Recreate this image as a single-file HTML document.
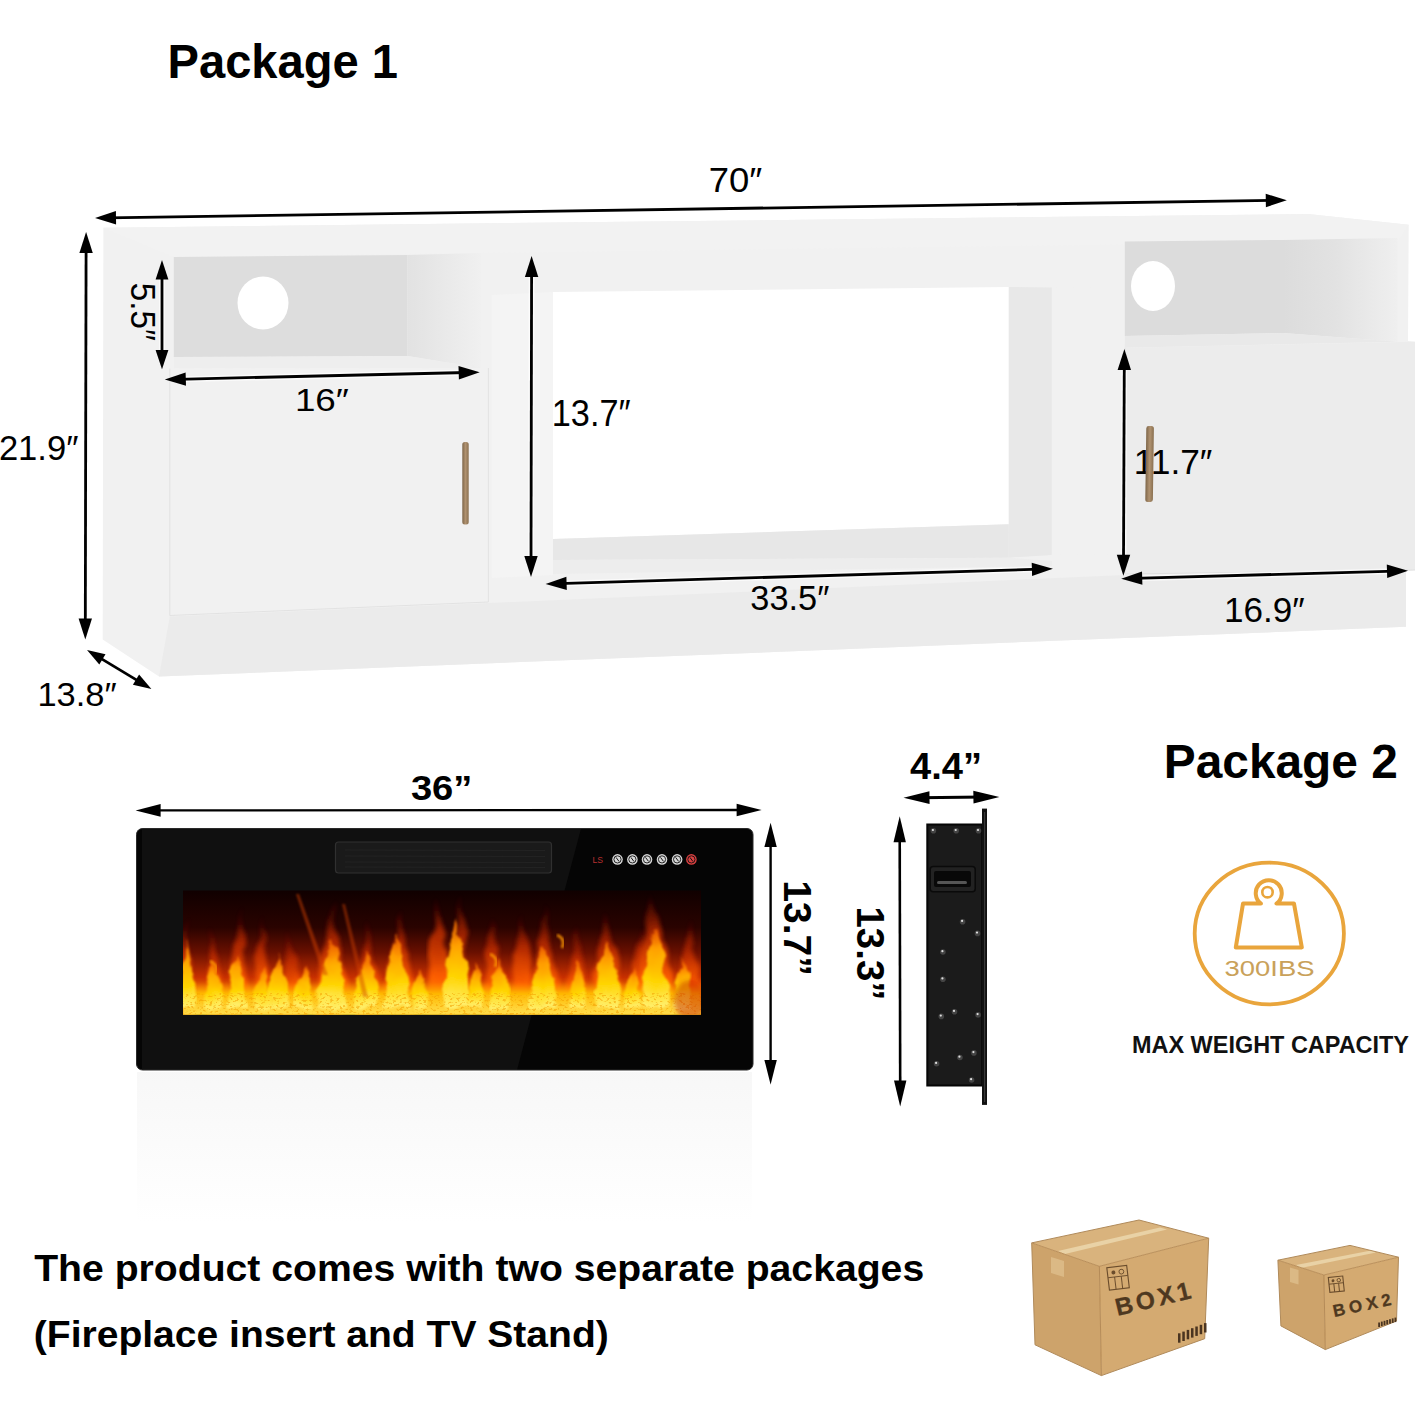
<!DOCTYPE html><html><head><meta charset="utf-8"><style>html,body{margin:0;padding:0;background:#fff;width:1417px;height:1417px;overflow:hidden}svg{display:block}text{font-family:"Liberation Sans",sans-serif}</style></head><body>
<svg width="1417" height="1417" viewBox="0 0 1417 1417">
<defs>
<linearGradient id="sideL" x1="0" x2="1" y1="0" y2="0"><stop offset="0" stop-color="#e2e2e2"/><stop offset="1" stop-color="#f0f0f0"/></linearGradient>
<linearGradient id="sideR" x1="0" x2="1" y1="0" y2="0"><stop offset="0" stop-color="#dcdcdc"/><stop offset="0.45" stop-color="#e2e2e2"/><stop offset="1" stop-color="#efefef"/></linearGradient>
<linearGradient id="refl" x1="0" x2="0" y1="0" y2="1"><stop offset="0" stop-color="#eeeeee"/><stop offset="1" stop-color="#ffffff"/></linearGradient>

</defs>
<polygon points="103.4,227.7 1308,214 1408.7,224.8 1408,341 1415,341.8 1415,570 1406,571 1406,626.8 159,676.5 102.7,639.4" fill="#f1f1f1"/>
<polygon points="103.4,227.7 1308,214 1408.7,224.8 1398,241 173.8,257" fill="#f2f2f2"/>
<polygon points="173.8,256.9 407.5,255 407.5,356 173.8,357" fill="#dddddd"/>
<polygon points="407.5,255 481,253 481,368 407.5,356" fill="url(#sideL)"/>
<polygon points="173.8,357 407.5,356 481,368 173.8,368.5" fill="#eeeeee"/>
<ellipse cx="263" cy="303" rx="25.5" ry="26.5" fill="#fff"/>
<polygon points="1124.8,241.5 1283,240 1283,333 1124.8,336" fill="#dcdcdc"/>
<polygon points="1283,240 1397.5,238 1397.5,341.8 1283,333" fill="url(#sideR)"/>
<polygon points="1124.8,336 1283,333 1397.5,341.8 1124.8,347.7" fill="#e9e9e9"/>
<ellipse cx="1153" cy="286" rx="22" ry="25" fill="#fff"/>
<polygon points="553,292 1008.8,286.9 1008.8,524.3 553,539" fill="#ffffff"/>
<polygon points="553,539 1008.8,524.3 1008.8,557.7 553,560" fill="#e7e7e7"/>
<polygon points="553,560 1008.8,557.7 1052,561 1052,566 553,574" fill="#ededed"/>
<polygon points="491.8,295 553,292 553,575 491.8,578" fill="#f4f4f4"/>
<polygon points="1008.8,286.9 1051.8,287.5 1051.8,555 1008.8,557.7" fill="#e8e8e8"/>
<polygon points="1051.8,287.5 1116,288 1116,554 1051.8,555" fill="#f1f1f1"/>
<polygon points="169.8,368.5 488.4,368 488.4,602 169.8,615.5" fill="#f1f1f1"/>
<polyline points="169.8,368.5 169.8,615.5 488.4,602 488.4,368" fill="none" stroke="#e2e2e2" stroke-width="1"/>
<polygon points="1125,347.7 1415,341.8 1415,570 1125,574" fill="#ececec"/>
<polyline points="1125,347.7 1125,574 1415,570" fill="none" stroke="#e0e0e0" stroke-width="1"/>
<defs><linearGradient id="hdl" x1="0" x2="1" y1="0" y2="0"><stop offset="0" stop-color="#7d6548"/><stop offset="0.5" stop-color="#b09270"/><stop offset="1" stop-color="#8a7050"/></linearGradient></defs>
<rect x="462.3" y="442" width="6.4" height="82.5" rx="2.5" fill="url(#hdl)"/>
<polygon points="169.8,616.5 488.4,603 1125,575 1406,572 1406,626.8 159,676.5" fill="#ebebeb"/>
<line x1="107.6" y1="217.8" x2="1274.2" y2="200.4" stroke="#fff" stroke-opacity="0.7" stroke-width="5.8"/><line x1="107.6" y1="217.8" x2="1274.2" y2="200.4" stroke="#000" stroke-width="2.8"/><polygon points="95.0,218.0 115.9,211.0 116.1,224.4" fill="#000"/><polygon points="1286.8,200.2 1265.9,207.2 1265.7,193.8" fill="#000"/>
<line x1="86.1" y1="244.6" x2="85.3" y2="626.8" stroke="#fff" stroke-opacity="0.7" stroke-width="5.8"/><line x1="86.1" y1="244.6" x2="85.3" y2="626.8" stroke="#000" stroke-width="2.8"/><polygon points="86.1,232.0 92.8,253.0 79.4,253.0" fill="#000"/><polygon points="85.3,639.4 78.6,618.4 92.0,618.4" fill="#000"/>
<line x1="162.0" y1="271.7" x2="162.0" y2="357.7" stroke="#fff" stroke-opacity="0.7" stroke-width="5.8"/><line x1="162.0" y1="271.7" x2="162.0" y2="357.7" stroke="#000" stroke-width="2.8"/><polygon points="162.0,260.1 168.4,279.4 155.6,279.4" fill="#000"/><polygon points="162.0,369.3 155.6,350.0 168.4,350.0" fill="#000"/>
<line x1="177.4" y1="379.3" x2="467.1" y2="372.5" stroke="#fff" stroke-opacity="0.7" stroke-width="5.8"/><line x1="177.4" y1="379.3" x2="467.1" y2="372.5" stroke="#000" stroke-width="2.8"/><polygon points="164.8,379.6 185.6,372.4 186.0,385.8" fill="#000"/><polygon points="479.7,372.2 458.9,379.4 458.5,366.0" fill="#000"/>
<line x1="531.6" y1="268.6" x2="531.0" y2="564.4" stroke="#fff" stroke-opacity="0.7" stroke-width="5.8"/><line x1="531.6" y1="268.6" x2="531.0" y2="564.4" stroke="#000" stroke-width="2.8"/><polygon points="531.6,256.0 538.3,277.0 524.9,277.0" fill="#000"/><polygon points="531.0,577.0 524.3,556.0 537.7,556.0" fill="#000"/>
<line x1="558.2" y1="583.6" x2="1040.3" y2="569.2" stroke="#fff" stroke-opacity="0.7" stroke-width="5.8"/><line x1="558.2" y1="583.6" x2="1040.3" y2="569.2" stroke="#000" stroke-width="2.8"/><polygon points="545.6,584.0 566.4,576.7 566.8,590.1" fill="#000"/><polygon points="1052.9,568.8 1032.1,576.1 1031.7,562.7" fill="#000"/>
<line x1="1124.3" y1="361.6" x2="1123.5" y2="563.2" stroke="#fff" stroke-opacity="0.7" stroke-width="5.8"/><line x1="1124.3" y1="361.6" x2="1123.5" y2="563.2" stroke="#000" stroke-width="2.8"/><polygon points="1124.4,349.0 1131.0,370.0 1117.6,370.0" fill="#000"/><polygon points="1123.4,575.8 1116.8,554.8 1130.2,554.8" fill="#000"/>
<line x1="1133.8" y1="578.3" x2="1395.4" y2="571.1" stroke="#fff" stroke-opacity="0.7" stroke-width="5.8"/><line x1="1133.8" y1="578.3" x2="1395.4" y2="571.1" stroke="#000" stroke-width="2.8"/><polygon points="1121.2,578.7 1142.0,571.4 1142.4,584.8" fill="#000"/><polygon points="1408.0,570.7 1387.2,578.0 1386.8,564.6" fill="#000"/>
<line x1="96.2" y1="655.6" x2="142.2" y2="683.4" stroke="#fff" stroke-opacity="0.7" stroke-width="5.8"/><line x1="96.2" y1="655.6" x2="142.2" y2="683.4" stroke="#000" stroke-width="2.8"/><polygon points="87.0,650.0 105.5,654.2 99.3,664.5" fill="#000"/><polygon points="151.4,689.0 132.9,684.8 139.1,674.5" fill="#000"/>
<text x="167.5" y="77.6" font-size="48" font-weight="bold" fill="#000" text-anchor="start" textLength="230.5" lengthAdjust="spacingAndGlyphs" >Package 1</text>
<text x="708.8" y="192" font-size="35.5" font-weight="normal" fill="#000" text-anchor="start" textLength="53.5" lengthAdjust="spacingAndGlyphs" >70″</text>
<text x="294.9" y="410.5" font-size="31" font-weight="normal" fill="#000" text-anchor="start" textLength="54" lengthAdjust="spacingAndGlyphs" >16″</text>
<text x="-1.1" y="460.4" font-size="34.5" font-weight="normal" fill="#000" text-anchor="start" textLength="79.5" lengthAdjust="spacingAndGlyphs" >21.9″</text>
<text x="551.8" y="425.7" font-size="36.5" font-weight="normal" fill="#000" text-anchor="start" textLength="78.8" lengthAdjust="spacingAndGlyphs" >13.7″</text>
<text x="1133.7" y="473.5" font-size="35.5" font-weight="normal" fill="#000" text-anchor="start" textLength="78.7" lengthAdjust="spacingAndGlyphs" >11.7″</text>
<text x="750.3" y="610" font-size="34.5" font-weight="normal" fill="#000" text-anchor="start" textLength="79" lengthAdjust="spacingAndGlyphs" >33.5″</text>
<text x="1224" y="621.5" font-size="35.5" font-weight="normal" fill="#000" text-anchor="start" textLength="80.6" lengthAdjust="spacingAndGlyphs" >16.9″</text>
<text x="37.4" y="705.7" font-size="33" font-weight="normal" fill="#000" text-anchor="start" textLength="79.2" lengthAdjust="spacingAndGlyphs" >13.8″</text>
<g transform="translate(130.8,282.8) rotate(90)"><text x="0" y="0" font-size="34.5" font-weight="normal" fill="#000" text-anchor="start" textLength="58" lengthAdjust="spacingAndGlyphs" >5.5″</text></g>
<rect x="1145.8" y="426" width="7.6" height="76" rx="2.5" fill="url(#hdl)" transform="rotate(0.8 1149.6 464)"/>
<defs>
<linearGradient id="fwin" x1="0" x2="0" y1="0" y2="1">
 <stop offset="0" stop-color="#100000"/><stop offset="0.3" stop-color="#2a0300"/>
 <stop offset="0.5" stop-color="#6a1000"/><stop offset="0.7" stop-color="#c83000"/>
 <stop offset="0.85" stop-color="#ff8a00"/><stop offset="1" stop-color="#ffd000"/></linearGradient>
<linearGradient id="flame" x1="0" x2="0" y1="0" y2="1">
 <stop offset="0" stop-color="#ff6a00" stop-opacity="0.7"/><stop offset="0.3" stop-color="#ffa000"/>
 <stop offset="0.65" stop-color="#ffd400"/><stop offset="1" stop-color="#fff070"/></linearGradient>
<linearGradient id="flame2" x1="0" x2="0" y1="0" y2="1">
 <stop offset="0" stop-color="#a01800" stop-opacity="0"/><stop offset="0.35" stop-color="#c83000" stop-opacity="0.8"/><stop offset="0.7" stop-color="#ff6000"/>
 <stop offset="1" stop-color="#ffa000"/></linearGradient>
<filter id="blur2" x="-20%" y="-20%" width="140%" height="140%"><feGaussianBlur stdDeviation="2.2"/></filter>
<filter id="blur1"><feGaussianBlur stdDeviation="0.8"/></filter><filter id="blur15" x="-30%" y="-30%" width="160%" height="160%"><feGaussianBlur stdDeviation="1.8"/></filter>
<clipPath id="winclip"><rect x="183" y="890.3" width="518" height="124.5"/></clipPath>
<filter id="ember" x="0" y="0" width="100%" height="100%">
 <feTurbulence type="fractalNoise" baseFrequency="0.3 0.45" numOctaves="2" seed="7" result="n"/>
 <feColorMatrix in="n" type="matrix" values="0 0 0 0 0.9  0 0 0 0 0.35  0 0 0 0 0  8 0 0 0 -4.4" result="m"/>
 <feComposite in="m" in2="SourceGraphic" operator="in"/>
</filter>
<linearGradient id="emberg" x1="0" x2="0" y1="0" y2="1"><stop offset="0" stop-color="#ff9000" stop-opacity="0"/><stop offset="0.35" stop-color="#ffb800"/><stop offset="1" stop-color="#ffe050"/></linearGradient>
</defs>
<rect x="137" y="1072" width="615" height="150" fill="url(#refl)" opacity="0.45"/>
<rect x="136.5" y="828.5" width="616.5" height="241.5" rx="6" fill="#050505"/>
<polygon points="142,828.5 581,828.5 517,1070 142,1070" fill="#101010"/>
<rect x="136.5" y="828.5" width="616.5" height="241.5" rx="6" fill="none" stroke="#2a2a2a" stroke-width="1"/>
<rect x="335.5" y="842" width="216" height="31" rx="3" fill="#1a1a1a" stroke="#303030" stroke-width="1.2"/>
<line x1="345" y1="850" x2="545" y2="850.5" stroke="#232323" stroke-width="1"/>
<line x1="345" y1="856" x2="545" y2="856.5" stroke="#232323" stroke-width="1"/>
<line x1="345" y1="862" x2="545" y2="862.5" stroke="#232323" stroke-width="1"/>
<line x1="345" y1="867" x2="545" y2="867.5" stroke="#232323" stroke-width="1"/>
<text x="592.5" y="862.5" font-size="9" fill="#b83030" textLength="10.5" lengthAdjust="spacingAndGlyphs">LS</text>
<circle cx="617.5" cy="859.4" r="5.3" fill="#d8d8d8"/>
<circle cx="617.5" cy="859.4" r="3.6" fill="none" stroke="#111" stroke-width="0.9"/>
<line x1="616.0" y1="857.4" x2="619.0" y2="861.4" stroke="#111" stroke-width="1"/>
<circle cx="632.4" cy="859.4" r="5.3" fill="#d8d8d8"/>
<circle cx="632.4" cy="859.4" r="3.6" fill="none" stroke="#111" stroke-width="0.9"/>
<line x1="630.9" y1="857.4" x2="633.9" y2="861.4" stroke="#111" stroke-width="1"/>
<circle cx="647" cy="859.4" r="5.3" fill="#d8d8d8"/>
<circle cx="647" cy="859.4" r="3.6" fill="none" stroke="#111" stroke-width="0.9"/>
<line x1="645.5" y1="857.4" x2="648.5" y2="861.4" stroke="#111" stroke-width="1"/>
<circle cx="662" cy="859.4" r="5.3" fill="#d8d8d8"/>
<circle cx="662" cy="859.4" r="3.6" fill="none" stroke="#111" stroke-width="0.9"/>
<line x1="660.5" y1="857.4" x2="663.5" y2="861.4" stroke="#111" stroke-width="1"/>
<circle cx="677.1" cy="859.4" r="5.3" fill="#d8d8d8"/>
<circle cx="677.1" cy="859.4" r="3.6" fill="none" stroke="#111" stroke-width="0.9"/>
<line x1="675.6" y1="857.4" x2="678.6" y2="861.4" stroke="#111" stroke-width="1"/>
<circle cx="691.4" cy="859.4" r="5.3" fill="#d94040"/>
<circle cx="691.4" cy="859.4" r="3.6" fill="none" stroke="#111" stroke-width="0.9"/>
<line x1="689.9" y1="857.4" x2="692.9" y2="861.4" stroke="#111" stroke-width="1"/>
<defs><filter id="fire" x="-10%" y="-30%" width="120%" height="160%"><feTurbulence type="fractalNoise" baseFrequency="0.06 0.05" numOctaves="3" seed="11" result="t"/><feDisplacementMap in="SourceGraphic" in2="t" scale="11" xChannelSelector="R" yChannelSelector="G" result="d"/><feGaussianBlur in="d" stdDeviation="1.1"/></filter><filter id="fire2" x="-10%" y="-30%" width="120%" height="160%"><feTurbulence type="fractalNoise" baseFrequency="0.05 0.035" numOctaves="2" seed="3" result="t"/><feDisplacementMap in="SourceGraphic" in2="t" scale="13" xChannelSelector="R" yChannelSelector="G" result="d"/><feGaussianBlur in="d" stdDeviation="2.2"/></filter></defs>
<g clip-path="url(#winclip)">
<rect x="183" y="890.3" width="518" height="124.5" fill="url(#fwin)"/>
<path d="M177,1015 C177,975 183.3,950 186,915 C188.7,950 195,975 195,1015 Z" fill="url(#flame2)" filter="url(#fire2)" opacity="0.95"/>
<path d="M206,1015 C206,975 210.3,960 213,925 C215.7,960 224,975 224,1015 Z" fill="url(#flame2)" filter="url(#fire2)" opacity="0.95"/>
<path d="M228,1015 C228,975 238.0,940 241,905 C244.0,940 248,975 248,1015 Z" fill="url(#flame2)" filter="url(#fire2)" opacity="0.95"/>
<path d="M253,1015 C253,975 259.3,950 262,915 C264.7,950 271,975 271,1015 Z" fill="url(#flame2)" filter="url(#fire2)" opacity="0.95"/>
<path d="M280,1015 C280,975 285.4,965 289,930 C292.6,965 304,975 304,1015 Z" fill="url(#flame2)" filter="url(#fire2)" opacity="0.95"/>
<path d="M315,1015 C315,975 328.2,935 333,900 C337.8,935 347,975 347,1015 Z" fill="url(#flame2)" filter="url(#fire2)" opacity="0.95"/>
<path d="M358,1015 C358,975 364.4,955 368,920 C371.6,955 382,975 382,1015 Z" fill="url(#flame2)" filter="url(#fire2)" opacity="0.95"/>
<path d="M384,1015 C384,975 396.8,940 401,905 C405.2,940 412,975 412,1015 Z" fill="url(#flame2)" filter="url(#fire2)" opacity="0.95"/>
<path d="M429,1015 C429,975 432.7,925 436,890 C439.3,925 451,975 451,1015 Z" fill="url(#flame2)" filter="url(#fire2)" opacity="0.95"/>
<path d="M444,1015 C444,975 455.8,928 460,893 C464.2,928 472,975 472,1015 Z" fill="url(#flame2)" filter="url(#fire2)" opacity="0.95"/>
<path d="M482,1015 C482,975 489.1,950 493,915 C496.9,950 508,975 508,1015 Z" fill="url(#flame2)" filter="url(#fire2)" opacity="0.95"/>
<path d="M509,1015 C509,975 519.7,945 523,910 C526.3,945 531,975 531,1015 Z" fill="url(#flame2)" filter="url(#fire2)" opacity="0.95"/>
<path d="M530,1015 C530,975 539.2,940 544,905 C548.8,940 562,975 562,1015 Z" fill="url(#flame2)" filter="url(#fire2)" opacity="0.95"/>
<path d="M562,1015 C562,975 573.1,960 577,925 C580.9,960 588,975 588,1015 Z" fill="url(#flame2)" filter="url(#fire2)" opacity="0.95"/>
<path d="M592,1015 C592,975 600.2,945 605,910 C609.8,945 624,975 624,1015 Z" fill="url(#flame2)" filter="url(#fire2)" opacity="0.95"/>
<path d="M628,1015 C628,975 638.4,955 642,920 C645.6,955 652,975 652,1015 Z" fill="url(#flame2)" filter="url(#fire2)" opacity="0.95"/>
<path d="M638,1015 C638,975 646.6,925 652,890 C657.4,925 674,975 674,1015 Z" fill="url(#flame2)" filter="url(#fire2)" opacity="0.95"/>
<path d="M678,1015 C678,975 688.4,950 692,915 C695.6,950 702,975 702,1015 Z" fill="url(#flame2)" filter="url(#fire2)" opacity="0.95"/>
<rect x="183" y="982" width="518" height="33" fill="url(#emberg)" filter="url(#blur1)"/>
<path d="M181,1008 C181,973.0 185.9,952.0 188,940 C190.1,952.0 195,973.0 195,1008 Z" fill="url(#flame)" filter="url(#fire)"/>
<path d="M205,1008 C205,982.0 210.3,968.0 213,960 C215.7,968.0 223,982.0 223,1008 Z" fill="url(#flame)" filter="url(#fire)"/>
<path d="M228,1008 C228,978.4 235.3,961.6 238,952 C240.7,961.6 246,978.4 246,1008 Z" fill="url(#flame)" filter="url(#fire)"/>
<path d="M254,1008 C254,984.25 259.6,972.0 262,965 C264.4,972.0 270,984.25 270,1008 Z" fill="url(#flame)" filter="url(#fire)"/>
<path d="M268,1008 C268,979.75 274.7,964.0 278,955 C281.3,964.0 290,979.75 290,1008 Z" fill="url(#flame)" filter="url(#fire)"/>
<path d="M295,1008 C295,984.25 302.3,972.0 305,965 C307.7,972.0 313,984.25 313,1008 Z" fill="url(#flame)" filter="url(#fire)"/>
<path d="M317,1008 C317,973.0 326.8,952.0 331,940 C335.2,952.0 345,973.0 345,1008 Z" fill="url(#flame)" filter="url(#fire)"/>
<path d="M356,1008 C356,978.4 364.7,961.6 368,952 C371.3,961.6 378,978.4 378,1008 Z" fill="url(#flame)" filter="url(#fire)"/>
<path d="M385,1008 C385,970.75 392.4,948.0 396,935 C399.6,948.0 409,970.75 409,1008 Z" fill="url(#flame)" filter="url(#fire)"/>
<path d="M412,1008 C412,985.6 417.6,974.4 420,968 C422.4,974.4 428,985.6 428,1008 Z" fill="url(#flame)" filter="url(#fire)"/>
<path d="M443,1008 C443,963.1 453.1,934.4 457,918 C460.9,934.4 469,963.1 469,1008 Z" fill="url(#flame)" filter="url(#fire)"/>
<path d="M468,1008 C468,982.9 473.6,969.6 476,962 C478.4,969.6 484,982.9 484,1008 Z" fill="url(#flame)" filter="url(#fire)"/>
<path d="M491,1008 C491,981.1 496.3,966.4 499,958 C501.7,966.4 509,981.1 509,1008 Z" fill="url(#flame)" filter="url(#fire)"/>
<path d="M530,1008 C530,975.25 540.1,956.0 544,945 C547.9,956.0 556,975.25 556,1008 Z" fill="url(#flame)" filter="url(#fire)"/>
<path d="M569,1008 C569,982.9 575.3,969.6 578,962 C580.7,969.6 587,982.9 587,1008 Z" fill="url(#flame)" filter="url(#fire)"/>
<path d="M596,1008 C596,972.1 603.4,950.4 607,938 C610.6,950.4 620,972.1 620,1008 Z" fill="url(#flame)" filter="url(#fire)"/>
<path d="M624,1008 C624,984.7 630.6,972.8 633,966 C635.4,972.8 640,984.7 640,1008 Z" fill="url(#flame)" filter="url(#fire)"/>
<path d="M641,1008 C641,966.25 650.8,940.0 655,925 C659.2,940.0 669,966.25 669,1008 Z" fill="url(#flame)" filter="url(#fire)"/>
<path d="M674,1008 C674,981.1 679.6,966.4 682,958 C684.4,966.4 690,981.1 690,1008 Z" fill="url(#flame)" filter="url(#fire)"/>
<path d="M210,961 Q219,965 215,974" fill="none" stroke="#ff9a00" stroke-width="3" opacity="0.8" filter="url(#blur1)"/>
<path d="M490,954 Q499,958 495,967" fill="none" stroke="#ff9a00" stroke-width="3" opacity="0.8" filter="url(#blur1)"/>
<path d="M557,935 Q566,939 562,948" fill="none" stroke="#ff9a00" stroke-width="3" opacity="0.8" filter="url(#blur1)"/>
<path d="M296,894 L299,894 L328,975 L323,975 Z" fill="#d04000" opacity="0.5" filter="url(#blur1)"/>
<path d="M342,904 L345,904 L368,997 L363,997 Z" fill="#d04000" opacity="0.45" filter="url(#blur1)"/>
<rect x="183" y="993" width="518" height="22" fill="#b04000" filter="url(#ember)" opacity="0.55"/>
<ellipse cx="690" cy="1000" rx="16" ry="20" fill="#c01800" opacity="0.45" filter="url(#blur2)"/>
</g>
<line x1="150.6" y1="810.4" x2="746.6" y2="810.0" stroke="#000" stroke-width="2.4"/><polygon points="135.6,810.4 160.6,804.1 160.6,816.7" fill="#000"/><polygon points="761.6,810.0 736.6,816.3 736.6,803.7" fill="#000"/>
<line x1="770.6" y1="837.3" x2="770.6" y2="1069.8" stroke="#000" stroke-width="2.4"/><polygon points="770.6,822.7 776.8,847.1 764.4,847.1" fill="#000"/><polygon points="770.6,1084.4 764.4,1060.0 776.8,1060.0" fill="#000"/>
<text x="410.9" y="799.6" font-size="35.5" font-weight="bold" fill="#000" text-anchor="start" textLength="61.5" lengthAdjust="spacingAndGlyphs" >36”</text>
<g transform="translate(783.5,880.3) rotate(90)"><text x="0" y="0" font-size="39" font-weight="bold" fill="#000" text-anchor="start" textLength="95.5" lengthAdjust="spacingAndGlyphs" >13.7”</text></g>
<rect x="927.3" y="824.5" width="55" height="261" fill="#1b1b1b" stroke="#050505" stroke-width="2"/>
<rect x="982" y="808.6" width="5" height="296.3" fill="#111"/>
<rect x="984" y="812" width="1.2" height="290" fill="#555" opacity="0.6"/>
<rect x="930.2" y="866.4" width="45" height="25.4" rx="3" fill="#222" stroke="#0a0a0a" stroke-width="1.5"/>
<rect x="934" y="871" width="37" height="16" rx="2" fill="#080808"/>
<rect x="937" y="881" width="30" height="3" rx="1.5" fill="#555"/>
<circle cx="933.4" cy="830.8" r="2.8" fill="#444"/><circle cx="932.9" cy="830.0" r="1.1" fill="#ddd"/>
<circle cx="956.2" cy="830.8" r="2.8" fill="#444"/><circle cx="955.7" cy="830.0" r="1.1" fill="#ddd"/>
<circle cx="978.5" cy="830.8" r="2.8" fill="#444"/><circle cx="978.0" cy="830.0" r="1.1" fill="#ddd"/>
<circle cx="962.6" cy="921.7" r="2.8" fill="#444"/><circle cx="962.1" cy="920.9000000000001" r="1.1" fill="#ddd"/>
<circle cx="977.5" cy="933.4" r="2.8" fill="#444"/><circle cx="977.0" cy="932.6" r="1.1" fill="#ddd"/>
<circle cx="942.9" cy="952" r="2.8" fill="#444"/><circle cx="942.4" cy="951.2" r="1.1" fill="#ddd"/>
<circle cx="942.9" cy="979.2" r="2.8" fill="#444"/><circle cx="942.4" cy="978.4000000000001" r="1.1" fill="#ddd"/>
<circle cx="954.5" cy="1011.7" r="2.8" fill="#444"/><circle cx="954.0" cy="1010.9000000000001" r="1.1" fill="#ddd"/>
<circle cx="941.3" cy="1016.4" r="2.8" fill="#444"/><circle cx="940.8" cy="1015.6" r="1.1" fill="#ddd"/>
<circle cx="978.1" cy="1014.9" r="2.8" fill="#444"/><circle cx="977.6" cy="1014.1" r="1.1" fill="#ddd"/>
<circle cx="973.9" cy="1052.9" r="2.8" fill="#444"/><circle cx="973.4" cy="1052.1000000000001" r="1.1" fill="#ddd"/>
<circle cx="959.9" cy="1057.5" r="2.8" fill="#444"/><circle cx="959.4" cy="1056.7" r="1.1" fill="#ddd"/>
<circle cx="936.6" cy="1063.7" r="2.8" fill="#444"/><circle cx="936.1" cy="1062.9" r="1.1" fill="#ddd"/>
<circle cx="971.6" cy="1080" r="2.8" fill="#444"/><circle cx="971.1" cy="1079.2" r="1.1" fill="#ddd"/>
<line x1="919.1" y1="797.7" x2="983.8" y2="797.1" stroke="#000" stroke-width="3"/><polygon points="903.5,797.8 929.4,791.2 929.6,804.0" fill="#000"/><polygon points="999.4,797.0 973.5,803.6 973.3,790.8" fill="#000"/>
<line x1="899.7" y1="831.8" x2="900.2" y2="1090.8" stroke="#000" stroke-width="2.6"/><polygon points="899.7,816.2 905.9,842.2 893.5,842.2" fill="#000"/><polygon points="900.2,1106.4 894.0,1080.4 906.4,1080.4" fill="#000"/>
<text x="910.1" y="778.7" font-size="36" font-weight="bold" fill="#000" text-anchor="start" textLength="72" lengthAdjust="spacingAndGlyphs" >4.4”</text>
<g transform="translate(857,906.5) rotate(90)"><text x="0" y="0" font-size="38" font-weight="bold" fill="#000" text-anchor="start" textLength="94" lengthAdjust="spacingAndGlyphs" >13.3”</text></g>
<text x="1163.8" y="777.5" font-size="48" font-weight="bold" fill="#000" text-anchor="start" textLength="234" lengthAdjust="spacingAndGlyphs" >Package 2</text>
<ellipse cx="1269.3" cy="933.5" rx="74.6" ry="70.8" fill="none" stroke="#e9a53c" stroke-width="3.8"/>
<path d="M1243,903.6 L1261,903.6 A13,13 0 1 1 1276.5,903.6 L1294,903.6 L1301.8,947.4 L1235.8,947.4 Z" fill="none" stroke="#e9a53c" stroke-width="4" stroke-linejoin="round"/>
<circle cx="1267.5" cy="892.2" r="5.2" fill="none" stroke="#e9a53c" stroke-width="2.6"/>
<text x="1224.5" y="976.4" font-size="22" font-weight="normal" fill="#c9a15a" text-anchor="start" textLength="90" lengthAdjust="spacingAndGlyphs" >300IBS</text>
<text x="1132" y="1053" font-size="23.5" font-weight="bold" fill="#111" text-anchor="start" textLength="277" lengthAdjust="spacingAndGlyphs" >MAX WEIGHT CAPACITY</text>
<text x="34.2" y="1280.8" font-size="37.8" font-weight="bold" fill="#000" text-anchor="start" textLength="890" lengthAdjust="spacingAndGlyphs" >The product comes with two separate packages</text>
<text x="33.8" y="1346.9" font-size="37.8" font-weight="bold" fill="#000" text-anchor="start" textLength="575" lengthAdjust="spacingAndGlyphs" >(Fireplace insert and TV Stand)</text>
<polygon points="1031.7,1242.9 1099.4,1266.3 1101.4,1375.6 1035.0,1344.8" fill="#cda36b"/><polygon points="1099.4,1266.3 1208.7,1238.2 1204.7,1338.7 1101.4,1375.6" fill="#d4aa71"/><polygon points="1031.7,1242.9 1139.0,1220.0 1208.7,1238.2 1099.4,1266.3" fill="#d9b37d"/><polygon points="1051.0,1257.0 1064.0,1261.0 1064.0,1277.0 1051.0,1273.0" fill="#dbb985"/><polygon points="1058.0,1251.0 1160.0,1227.5 1167.0,1229.5 1065.0,1254.0" fill="#e9d2a6"/><polyline points="1031.7,1242.9 1099.4,1266.3 1208.7,1238.2" fill="none" stroke="#b58a55" stroke-width="0.9"/><line x1="1099.4" y1="1266.3" x2="1101.4" y2="1375.6" stroke="#b08550" stroke-width="0.9"/><polygon points="1031.7,1242.9 1139.0,1220.0 1208.7,1238.2 1204.7,1338.7 1101.4,1375.6 1035.0,1344.8" fill="none" stroke="#b08a5a" stroke-width="1"/><g transform="translate(1117.5,1316) rotate(-13.5)"><text x="0" y="0" font-size="24.5" font-weight="bold" fill="#4e3820" stroke="#4e3820" stroke-width="0.3" textLength="77" lengthAdjust="spacing">BOX1</text></g><g transform="rotate(-6.75 1106.8 1267.7)"><rect x="1106.8" y="1267.7" width="20" height="22.5" fill="none" stroke="#6a4c2c" stroke-width="1.1"/><line x1="1106.8" y1="1277.825" x2="1126.8" y2="1277.825" stroke="#6a4c2c" stroke-width="0.9"/><line x1="1113.4666666666667" y1="1277.825" x2="1113.4666666666667" y2="1290.2" stroke="#6a4c2c" stroke-width="1"/><line x1="1120.1333333333332" y1="1277.825" x2="1120.1333333333332" y2="1290.2" stroke="#6a4c2c" stroke-width="1"/><circle cx="1112.8" cy="1273.325" r="2.0" fill="#6a4c2c"/><circle cx="1120.8" cy="1273.325" r="2.4" fill="none" stroke="#6a4c2c" stroke-width="0.9"/></g><rect x="1178.0" y="1333.3" width="2.5" height="9.4" fill="#4a3420"/><rect x="1182.3" y="1331.6" width="2.5" height="9.4" fill="#4a3420"/><rect x="1186.7" y="1329.9" width="2.5" height="9.4" fill="#4a3420"/><rect x="1191.0" y="1328.2" width="2.5" height="9.4" fill="#4a3420"/><rect x="1195.3" y="1326.5" width="2.5" height="9.4" fill="#4a3420"/><rect x="1199.7" y="1324.8" width="2.5" height="9.4" fill="#4a3420"/><rect x="1204.0" y="1323.1" width="2.5" height="9.4" fill="#4a3420"/>
<polygon points="1277.9,1260.2 1323.9,1275.0 1325.3,1349.6 1280.9,1325.9" fill="#cda36b"/><polygon points="1323.9,1275.0 1398.5,1257.2 1396.5,1321.0 1325.3,1349.6" fill="#d4aa71"/><polygon points="1277.9,1260.2 1350.0,1245.4 1398.5,1257.2 1323.9,1275.0" fill="#d9b37d"/><polygon points="1290.0,1267.5 1298.5,1270.0 1298.5,1284.4 1290.0,1282.0" fill="#dbb985"/><polygon points="1296.0,1265.0 1371.0,1250.5 1376.0,1252.5 1301.0,1268.0" fill="#e9d2a6"/><polyline points="1277.9,1260.2 1323.9,1275.0 1398.5,1257.2" fill="none" stroke="#b58a55" stroke-width="0.9"/><line x1="1323.9" y1="1275" x2="1325.3" y2="1349.6" stroke="#b08550" stroke-width="0.9"/><polygon points="1277.9,1260.2 1350.0,1245.4 1398.5,1257.2 1396.5,1321.0 1325.3,1349.6 1280.9,1325.9" fill="none" stroke="#b08a5a" stroke-width="1"/><g transform="translate(1334.2,1317) rotate(-12)"><text x="0" y="0" font-size="17" font-weight="bold" fill="#4e3820" stroke="#4e3820" stroke-width="0.3" textLength="59" lengthAdjust="spacing">BOX2</text></g><g transform="rotate(-6.0 1328.3 1277.5)"><rect x="1328.3" y="1277.5" width="14.5" height="15" fill="none" stroke="#6a4c2c" stroke-width="1.1"/><line x1="1328.3" y1="1284.25" x2="1342.8" y2="1284.25" stroke="#6a4c2c" stroke-width="0.9"/><line x1="1333.1333333333332" y1="1284.25" x2="1333.1333333333332" y2="1292.5" stroke="#6a4c2c" stroke-width="1"/><line x1="1337.9666666666667" y1="1284.25" x2="1337.9666666666667" y2="1292.5" stroke="#6a4c2c" stroke-width="1"/><circle cx="1332.6499999999999" cy="1281.25" r="1.4500000000000002" fill="#6a4c2c"/><circle cx="1338.45" cy="1281.25" r="1.74" fill="none" stroke="#6a4c2c" stroke-width="0.9"/></g><rect x="1378.2" y="1322.5" width="1.8" height="4.5" fill="#4a3420"/><rect x="1380.9" y="1321.6" width="1.8" height="4.5" fill="#4a3420"/><rect x="1383.6" y="1320.8" width="1.8" height="4.5" fill="#4a3420"/><rect x="1386.3" y="1320.0" width="1.8" height="4.5" fill="#4a3420"/><rect x="1389.1" y="1319.2" width="1.8" height="4.5" fill="#4a3420"/><rect x="1391.8" y="1318.4" width="1.8" height="4.5" fill="#4a3420"/><rect x="1394.5" y="1317.6" width="1.8" height="4.5" fill="#4a3420"/>
</svg></body></html>
